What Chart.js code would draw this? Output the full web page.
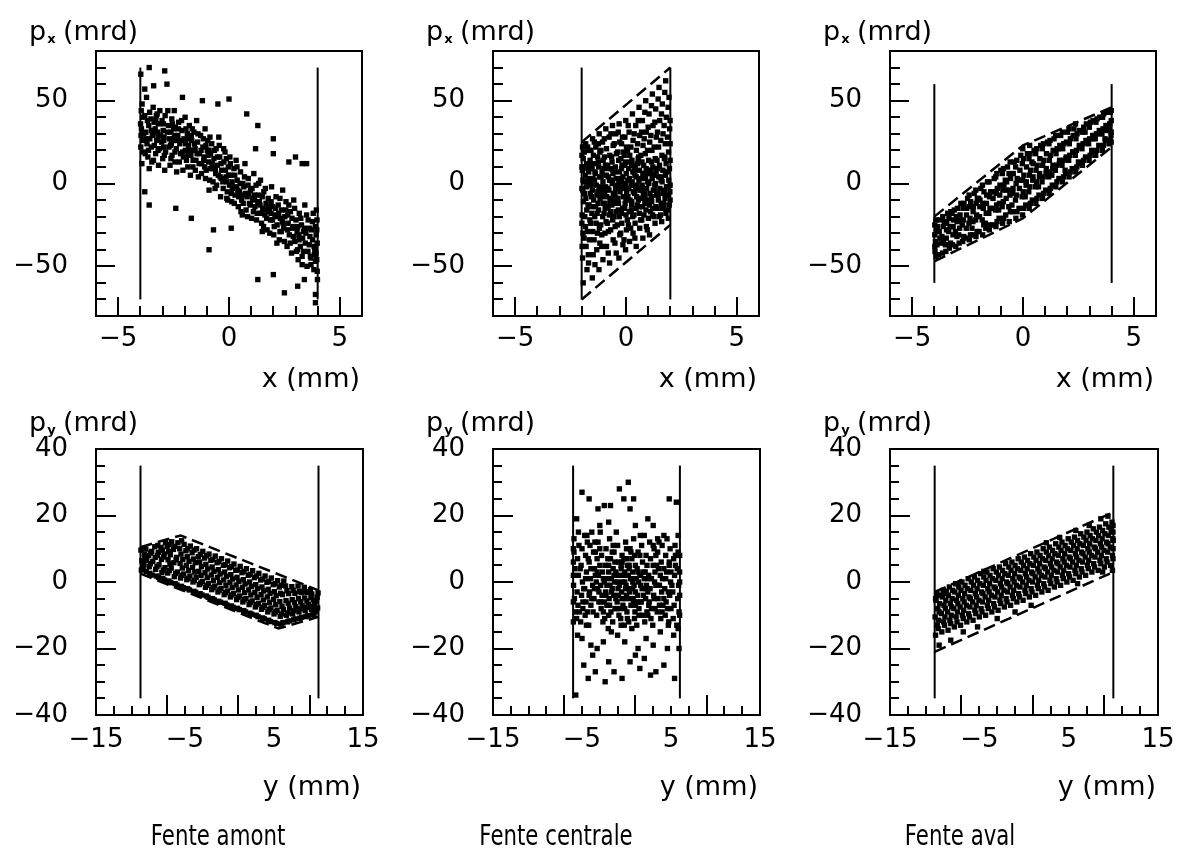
<!DOCTYPE html>
<html>
<head>
<meta charset="utf-8">
<script src="https://cdn.jsdelivr.net/npm/chart.js@4.4.1/dist/chart.umd.min.js"></script>
<style>
  html, body { margin: 0; padding: 0; background: #fff; }
  #page { position: relative; width: 1177px; height: 852px; overflow: hidden; background: #fff; }
  canvas { position: absolute; }
</style>
</head>
<body>
<div id="page">
  <canvas id="c1" width="383" height="400" style="left:0px;top:0px"></canvas>
  <canvas id="c2" width="383" height="400" style="left:397px;top:0px"></canvas>
  <canvas id="c3" width="383" height="400" style="left:794px;top:0px"></canvas>
  <canvas id="c4" width="383" height="452" style="left:0px;top:400px"></canvas>
  <canvas id="c5" width="383" height="452" style="left:397px;top:400px"></canvas>
  <canvas id="c6" width="383" height="452" style="left:794px;top:400px"></canvas>
</div>
<script>
// ---- axis ticks and labels ----
const topXTicks  = [-5, -4, -3, -2, -1, 0, 1, 2, 3, 4, 5];
const topXMajor  = [-5, 0, 5];
const topXLabels = [-5, 0, 5];
const topYTicks  = [-70, -60, -50, -40, -30, -20, -10, 0, 10, 20, 30, 40, 50, 60, 70];
const topYMajor  = [-50, 0, 50];
const topYLabels = [-50, 0, 50];
const botXTicks  = [-13, -11, -9, -7, -5, -3, -1, 1, 3, 5, 7, 9, 11, 13];
const botXMajor  = [-7, 1, 9];
const botXLabels = [-15, -5, 5, 15];
const botYTicks  = [-35, -30, -25, -20, -15, -10, -5, 0, 5, 10, 15, 20, 25, 30, 35];
const botYMajor  = [-20, 0, 20];
const botYLabels = [-40, -20, 0, 20, 40];

// ---- slit edges (mm) and their drawn extent (mrd) ----
const slitAmontX = [-4, 4],     reachAmontX = [-70, 70];
const slitCentraleX = [-2, 2],  reachCentraleX = [-70, 70];
const slitAvalX = [-4, 4],      reachAvalX = [-60, 60];
const slitAmontY = [-10, 10],   reachAmontY = [-35, 35];
const slitCentraleY = [-6, 6],  reachCentraleY = [-35, 35];
const slitAvalY = [-10, 10],    reachAvalY = [-35, 35];

// ---- acceptance envelopes (dashed) ----
const envCentraleXUp  = [[-2, 25], [2, 70]];
const envCentraleXLow = [[-2, -70], [2, -25]];
const envAvalXUp  = [[-4, -20], [0, 23], [4, 46]];
const envAvalXLow = [[-4, -47], [0, -21], [4, 22]];
const envAmontYUp  = [[-10, 10.5], [-5.5, 14], [10, -2.5]];
const envAmontYLow = [[-10, 2.5], [5.5, -14], [10, -10.5]];
const envAvalYUp  = [[-10, -3], [10, 21]];
const envAvalYLow = [[-10, -21], [10, 3]];

// ---- particles: x (mm), px (mrd) ----
const amontX = [
[-3.92,48],[-3.88,40],[-3.95,33],[-3.9,26],[-3.86,19],[-3.93,12],[-3.99,36],[-3.97,29],[-3.98,22],[-3.96,44],
[-3.72,52],[-3.68,38],[-3.75,31],[-3.7,24],[-3.66,16],[-3.58,43],[-3.62,35],[-3.57,27],[-3.63,20],[-3.6,9],
[-3.42,46],[-3.38,37],[-3.44,30],[-3.37,23],[-3.41,14],[-3.28,41],[-3.33,33],[-3.26,26],[-3.31,18],[-3.19,36],
[-3.12,44],[-3.08,29],[-3.13,21],[-3.02,38],[-2.97,32],[-3.04,25],[-2.99,15],[-2.88,41],[-2.93,28],[-2.86,19],
[-2.73,35],[-2.68,27],[-2.71,22],[-2.66,11],[-2.58,39],[-2.62,31],[-2.57,17],[-2.51,26],[-2.47,44],[-2.42,34],
[-2.38,21],[-2.44,13],[-2.31,29],[-2.27,37],[-2.22,24],[-2.18,18],[-2.12,32],[-2.08,8],[-2.03,27],[-1.98,40],
[-1.97,20],[-1.92,14],[-1.88,30],[-1.83,23],[-1.79,35],[-1.72,17],[-1.68,26],[-1.63,10],[-1.58,31],[-1.53,21],
[-1.49,14],[-1.46,38],[-1.42,25],[-1.38,4],[-1.33,18],[-1.28,29],[-1.23,12],[-1.18,22],[-1.13,16],[-1.08,33],
[-1.03,8],[-0.98,20],[-0.96,26],[-0.92,13],[-0.87,2],[-0.83,18],[-0.78,24],[-0.73,9],[-0.68,15],[-0.63,-3],
[-0.58,21],[-0.53,11],[-0.48,5],[-0.46,28],[-0.42,16],[-0.38,-8],[-0.33,8],[-0.28,1],[-0.23,13],[-0.18,19],
[-0.13,4],[-0.08,-5],[-0.03,10],[0.02,-1],[0.04,16],[0.08,5],[0.12,-11],[0.17,-3],[0.22,9],[0.27,-7],
[0.32,14],[0.37,2],[0.42,-14],[0.47,-5],[0.52,7],[0.57,-10],[0.62,0],[0.67,-2],[0.72,12],[0.77,-16],
[0.82,-8],[0.87,3],[0.92,-12],[0.97,-4],[1.02,-21],[1.07,-9],[1.12,6],[1.17,-14],[1.22,-1],[1.27,-18],
[1.32,-7],[1.37,-11],[1.42,2],[1.47,-24],[1.52,-15],[1.57,-5],[1.62,-19],[1.67,-12],[1.72,-28],[1.77,-9],
[1.82,-17],[1.87,-22],[1.92,-2],[1.97,-14],[2.02,-31],[2.07,-19],[2.12,-8],[2.17,-25],[2.22,-13],[2.27,-34],
[2.32,-21],[2.37,-16],[2.42,-4],[2.47,-27],[2.52,-20],[2.57,-11],[2.62,-38],[2.67,-24],[2.72,-31],[2.77,-17],
[2.82,-42],[2.87,-27],[2.92,-10],[2.97,-35],[3.02,-22],[3.07,-29],[3.12,-46],[3.17,-18],[3.22,-38],[3.27,-25],
[3.32,-33],[3.37,-41],[3.42,-13],[3.47,-30],[3.52,-50],[3.57,-22],[3.62,-37],[3.67,-44],[3.72,-28],[3.77,-34],
[3.8,-18],[3.83,-52],[3.87,-40],[3.9,-26],[3.93,-31],[3.96,-46],[3.98,-36],[3.97,-22],[3.99,-58],
[-3.85,30],[-3.5,32],[-3.2,28],[-2.95,22],[-2.6,24],[-2.35,26],[-2.1,19],[-1.85,17],[-1.6,20],[-1.35,12],
[-1.1,10],[-0.85,9],[-0.6,6],[-0.35,3],[-0.1,1],[0.15,-2],[0.4,-4],[0.65,-7],[0.9,-6],[1.15,-10],
[1.4,-13],[1.65,-16],[1.9,-18],[2.15,-20],[2.4,-23],[2.65,-19],[2.9,-26],[3.15,-31],[3.4,-27],[3.65,-32],
[3.85,-43],[-3.3,38],[-2.5,33],[-1.7,29],[-0.9,20],[-0.1,-9],[0.6,-19],[1.5,-29],[2.3,-29],[3.1,-40],
[-3.98,66],[-3.6,70],[-2.9,68],[-3.4,59],[-2.8,60],[-3.8,57],[-2.1,52],[-1.2,50],[-0.5,48],[0.0,51],
[0.8,42],[1.3,35],[2.0,27],[1.2,21],[2.0,18],[3.0,16],[3.3,12],[3.5,12],[2.7,13],[-3.6,-13],
[-3.8,-5],[-2.4,-15],[-1.7,-21],[-0.9,-40],[-0.7,-28],[0.1,-27],[1.3,-58],[2.5,-66],[3.1,-62],[3.9,-67],
[3.9,-72],[3.4,-58],[2.0,-55],[3.3,-49],[3.7,-45]
];
const amontXCore = [
[-3.8,41],[-3.78,18],[-3.74,27],[-3.52,39],[-3.5,22],[-3.48,13],[-3.46,29],[-3.24,42],[-3.22,31],[-3.2,20],
[-3.18,11],[-2.96,36],[-2.94,26],[-2.92,17],[-2.9,8],[-2.78,31],[-2.76,44],[-2.64,23],[-2.62,15],[-2.55,36],
[-2.46,29],[-2.44,19],[-2.36,7],[-2.28,33],[-2.24,13],[-2.16,26],[-2.14,38],[-2.06,16],[-1.96,24],[-1.94,33],
[-1.86,10],[-1.82,27],[-1.76,20],[-1.74,5],[-1.66,33],[-1.62,14],[-1.56,24],[-1.52,8],[-1.44,18],[-1.4,30],
[-1.26,20],[-1.24,6],[-1.16,27],[-1.14,14],[-1.06,3],[-1.04,23],[-0.94,17],[-0.9,-4],[-0.86,28],[-0.76,12],
[-0.72,1],[-0.66,20],[-0.62,9],[-0.56,-1],[-0.52,16],[-0.44,23],[-0.4,4],[-0.36,12],[-0.26,-3],[-0.24,21],
[-0.16,8],[-0.12,15],[-0.06,-10],[-0.02,5],[0.06,12],[0.1,-6],[0.14,1],[0.24,-12],[0.26,5],[0.34,-2],
[0.36,10],[0.44,-8],[0.5,0],[0.54,-17],[0.64,-12],[0.7,4],[0.74,-6],[0.84,-20],[0.86,-1],[0.96,-13],
[1.04,-3],[1.1,-17],[1.16,-7],[1.24,-22],[1.3,-12],[1.34,0],[1.44,-18],[1.5,-8],[1.56,-26],[1.64,-3],
[1.7,-21],[1.76,-14],[1.84,-30],[1.9,-11],[1.96,-22],[2.04,-26],[2.1,-15],[2.16,-36],[2.24,-18],[2.3,-9],
[2.36,-29],[2.44,-24],[2.5,-35],[2.56,-16],[2.64,-28],[2.7,-13],[2.76,-36],[2.84,-21],[2.9,-32],[2.96,-15],
[3.04,-41],[3.1,-26],[3.16,-34],[3.24,-21],[3.3,-44],[3.36,-29],[3.44,-36],[3.5,-19],[3.56,-41],[3.64,-27],
[3.7,-49],[3.76,-23],[3.84,-38],[3.9,-47],[3.94,-16],[3.96,-28],[3.98,-53],[3.92,-42]
];

const centraleX = [
[-1.96,22],[-1.93,15],[-1.97,8],[-1.94,2],[-1.95,-4],[-1.92,-11],[-1.98,-19],[-1.94,-30],[-1.96,-45],[-1.93,-60],
[-1.82,24],[-1.78,12],[-1.84,5],[-1.79,-2],[-1.81,-9],[-1.77,-16],[-1.83,-26],[-1.8,-38],[-1.76,-52],
[-1.66,20],[-1.62,14],[-1.68,7],[-1.64,0],[-1.61,-6],[-1.67,-13],[-1.63,-22],[-1.65,-34],[-1.69,-48],
[-1.51,27],[-1.47,17],[-1.53,9],[-1.49,3],[-1.52,-4],[-1.46,-10],[-1.54,-18],[-1.5,-29],[-1.48,-43],[-1.52,-57],
[-1.36,22],[-1.33,12],[-1.38,6],[-1.34,-1],[-1.31,-7],[-1.37,-14],[-1.35,-24],[-1.32,-40],
[-1.21,30],[-1.18,19],[-1.23,10],[-1.19,4],[-1.22,-3],[-1.17,-9],[-1.24,-16],[-1.2,-27],[-1.18,-36],[-1.22,-52],
[-1.06,25],[-1.03,14],[-1.08,7],[-1.04,1],[-1.07,-5],[-1.02,-12],[-1.05,-20],[-1.09,-31],[-1.04,-46],
[-0.91,33],[-0.88,21],[-0.93,11],[-0.89,5],[-0.92,-2],[-0.87,-8],[-0.94,-15],[-0.9,-23],[-0.88,-38],
[-0.76,28],[-0.73,17],[-0.78,9],[-0.74,2],[-0.77,-4],[-0.72,-11],[-0.75,-19],[-0.79,-29],[-0.74,-48],
[-0.61,35],[-0.58,23],[-0.63,13],[-0.59,6],[-0.62,0],[-0.57,-6],[-0.64,-13],[-0.6,-22],[-0.58,-34],
[-0.46,30],[-0.43,18],[-0.48,10],[-0.44,3],[-0.47,-3],[-0.42,-9],[-0.45,-17],[-0.49,-26],[-0.44,-42],
[-0.31,36],[-0.28,25],[-0.33,14],[-0.29,7],[-0.32,1],[-0.27,-5],[-0.34,-12],[-0.3,-20],[-0.28,-31],[-0.32,-45],
[-0.16,28],[-0.13,19],[-0.18,11],[-0.14,4],[-0.17,-2],[-0.12,-8],[-0.15,-15],[-0.19,-24],[-0.14,-37],
[-0.01,38],[0.02,22],[-0.03,13],[0.01,6],[-0.02,0],[0.03,-6],[-0.04,-12],[0,-19],[0.02,-28],[-0.02,-40],
[0.14,31],[0.17,17],[0.12,9],[0.16,3],[0.13,-3],[0.18,-10],[0.15,-17],[0.11,-25],[0.16,-35],
[0.29,42],[0.32,26],[0.27,14],[0.31,7],[0.28,1],[0.33,-5],[0.26,-11],[0.3,-20],[0.32,-30],
[0.44,35],[0.47,20],[0.42,11],[0.46,4],[0.43,-2],[0.48,-8],[0.45,-15],[0.41,-24],[0.46,-38],
[0.59,46],[0.62,29],[0.57,16],[0.61,8],[0.58,2],[0.63,-4],[0.56,-10],[0.6,-18],[0.62,-27],
[0.74,38],[0.77,23],[0.72,13],[0.76,6],[0.73,-1],[0.78,-7],[0.75,-14],[0.71,-22],[0.76,-33],
[0.89,50],[0.92,31],[0.87,18],[0.91,9],[0.88,3],[0.93,-3],[0.86,-9],[0.9,-16],[0.92,-26],
[1.04,42],[1.07,25],[1.02,14],[1.06,6],[1.03,0],[1.08,-6],[1.05,-13],[1.01,-21],[1.06,-31],
[1.19,54],[1.22,35],[1.17,20],[1.21,10],[1.18,3],[1.23,-4],[1.16,-11],[1.2,-19],
[1.34,45],[1.37,28],[1.32,15],[1.36,7],[1.33,0],[1.38,-7],[1.35,-14],[1.31,-24],
[1.49,58],[1.52,38],[1.47,22],[1.51,11],[1.48,4],[1.53,-3],[1.46,-10],[1.5,-20],
[1.64,48],[1.67,30],[1.62,17],[1.66,8],[1.63,1],[1.68,-6],[1.65,-15],[1.61,-23],
[1.79,62],[1.82,40],[1.77,24],[1.81,12],[1.78,5],[1.83,-2],[1.76,-9],[1.8,-18],
[1.94,52],[1.97,33],[1.92,19],[1.96,9],[1.93,2],[1.98,-5],[1.95,-13],[1.91,-21],
[-1.7,3],[-1.4,7],[-1.1,-2],[-0.8,4],[-0.5,-6],[-0.2,9],[0.1,-3],[0.4,5],[0.7,-4],[1.0,8],
[1.3,-1],[1.6,4],[1.9,-2],[-1.85,10],[-1.55,-8],[-1.25,13],[-0.95,-12],[-0.65,16],[-0.35,-16],[-0.05,11],
[0.25,-13],[0.55,15],[0.85,-12],[1.15,13],[1.45,-7],[1.75,16],[-1.6,-1],[-1.0,9],[-0.4,-1],[0.2,13],
[0.8,11],[1.4,14],[-1.3,-18],[-0.7,-17],[0.0,-9],[0.6,-14],[1.2,-15],[1.7,-12],[-0.2,3],[0.5,-1]
];
const centraleXCore = [
[-1.99,17],[-1.99,-3],[-1.99,-24],[-1.98,-38],[-1.99,10],[-1.88,19],[-1.87,-6],[-1.86,-20],[-1.89,-33],[-1.88,1],
[-1.73,22],[-1.72,9],[-1.71,-13],[-1.74,-29],[-1.7,-43],[-1.58,20],[-1.57,-1],[-1.56,-14],[-1.59,-24],[-1.55,12],
[-1.43,25],[-1.42,2],[-1.41,-20],[-1.44,-34],[-1.4,-49],[-1.28,16],[-1.27,-5],[-1.26,-12],[-1.29,-30],[-1.25,24],
[-1.13,20],[-1.12,4],[-1.11,-8],[-1.14,-25],[-1.1,-38],[-0.98,27],[-0.97,16],[-0.96,-5],[-0.99,-18],[-0.95,-30],
[-0.83,11],[-0.82,-3],[-0.81,-14],[-0.84,-24],[-0.8,-42],[-0.68,30],[-0.67,9],[-0.66,-9],[-0.69,-28],[-0.65,2],
[-0.53,24],[-0.52,7],[-0.51,-12],[-0.54,-20],[-0.5,-36],[-0.38,19],[-0.37,-2],[-0.36,-9],[-0.39,-25],[-0.35,31],
[-0.23,15],[-0.22,1],[-0.21,-18],[-0.24,-30],[-0.2,24],[-0.08,17],[-0.07,-3],[-0.06,-15],[-0.09,-34],[-0.05,28],
[0.07,20],[0.08,2],[0.09,-8],[0.06,-22],[0.1,35],[0.22,22],[0.23,-1],[0.24,-16],[0.21,-27],[0.25,11],
[0.37,30],[0.38,8],[0.39,-6],[0.36,-19],[0.4,-33],[0.52,24],[0.53,12],[0.54,-3],[0.51,-13],[0.55,38],
[0.67,17],[0.68,3],[0.69,-9],[0.66,-22],[0.7,31],[0.82,27],[0.83,6],[0.84,-6],[0.81,-19],[0.85,43],
[0.97,20],[0.98,1],[0.99,-10],[0.96,-28],[1.0,34],[1.12,29],[1.13,8],[1.14,-8],[1.11,-17],[1.15,47],
[1.27,22],[1.28,5],[1.29,-4],[1.26,-20],[1.3,37],[1.42,31],[1.43,9],[1.44,-6],[1.41,-15],[1.45,51],
[1.57,26],[1.58,2],[1.59,-12],[1.56,-19],[1.6,42],[1.72,35],[1.73,15],[1.74,-4],[1.71,-13],[1.75,55],
[1.87,28],[1.88,7],[1.89,-7],[1.86,-16],[1.9,46],[1.99,38],[1.99,14],[1.99,-1],[1.99,-10],[1.99,24]
];

const avalX = [
[-3.92,-44],[-3.88,-37],[-3.95,-35],[-3.9,-29],[-3.86,-26],[-3.93,-22],[-3.97,-41],
[-3.63,-42],[-3.58,-35],[-3.66,-32],[-3.6,-26],[-3.55,-23],[-3.62,-20],
[-3.32,-39],[-3.27,-36],[-3.35,-29],[-3.29,-26],[-3.34,-21],[-3.26,-17],
[-3.03,-38],[-2.98,-32],[-3.05,-29],[-2.97,-23],[-3.01,-20],[-2.96,-15],
[-2.72,-35],[-2.67,-32],[-2.74,-25],[-2.69,-22],[-2.71,-15],[-2.66,-12],
[-2.42,-34],[-2.37,-31],[-2.44,-24],[-2.39,-21],[-2.41,-14],[-2.36,-11],[-2.43,-7],
[-2.12,-32],[-2.07,-29],[-2.14,-22],[-2.09,-19],[-2.11,-12],[-2.06,-9],[-2.13,-4],
[-1.82,-31],[-1.77,-25],[-1.84,-22],[-1.79,-15],[-1.81,-12],[-1.76,-5],[-1.83,-1],
[-1.52,-28],[-1.47,-25],[-1.54,-18],[-1.49,-15],[-1.51,-8],[-1.46,-5],[-1.53,1],
[-1.22,-26],[-1.17,-23],[-1.24,-16],[-1.19,-13],[-1.21,-6],[-1.16,-3],[-1.23,4],[-1.18,6],
[-0.92,-24],[-0.87,-21],[-0.94,-14],[-0.89,-11],[-0.91,-4],[-0.86,-1],[-0.93,6],[-0.88,9],
[-0.62,-23],[-0.57,-17],[-0.64,-14],[-0.59,-7],[-0.61,-4],[-0.56,3],[-0.63,6],[-0.58,13],
[-0.32,-21],[-0.27,-17],[-0.34,-10],[-0.29,-7],[-0.31,0],[-0.26,3],[-0.33,10],[-0.28,14],
[-0.02,-19],[0.03,-15],[-0.04,-8],[0.01,-5],[-0.01,2],[0.04,5],[-0.03,12],[0.02,15],[-0.01,21],
[0.28,-15],[0.33,-12],[0.26,-5],[0.31,-2],[0.29,5],[0.34,8],[0.27,15],[0.32,18],[0.3,23],
[0.58,-12],[0.63,-9],[0.56,-2],[0.61,1],[0.59,8],[0.64,11],[0.57,18],[0.62,21],
[0.88,-9],[0.93,-6],[0.86,1],[0.91,4],[0.89,11],[0.94,14],[0.87,21],[0.92,24],
[1.18,-6],[1.23,-3],[1.16,4],[1.21,7],[1.19,14],[1.24,17],[1.17,24],[1.22,26],
[1.48,-2],[1.53,1],[1.46,8],[1.51,11],[1.49,18],[1.54,21],[1.47,29],
[1.78,1],[1.83,4],[1.76,11],[1.81,14],[1.79,21],[1.84,24],[1.77,31],
[2.08,4],[2.13,7],[2.06,14],[2.11,17],[2.09,24],[2.14,27],[2.07,33],
[2.38,7],[2.43,10],[2.36,17],[2.41,20],[2.39,27],[2.44,30],[2.37,36],
[2.68,11],[2.73,14],[2.66,21],[2.71,24],[2.69,31],[2.74,34],
[2.98,14],[3.03,17],[2.96,24],[3.01,27],[2.99,34],[3.04,37],
[3.28,17],[3.33,20],[3.26,27],[3.31,30],[3.29,37],[3.34,39],
[3.58,20],[3.63,23],[3.56,30],[3.61,33],[3.59,40],[3.64,42],
[3.88,24],[3.93,26],[3.86,33],[3.91,36],[3.94,43],[3.97,29],
[-3.75,-33],[-3.45,-28],[-3.15,-26],[-2.85,-22],[-2.55,-19],[-2.25,-17],[-1.95,-14],[-1.65,-12],[-1.35,-9],[-1.05,-7],
[-0.75,-4],[-0.45,-3],[-0.15,2],[0.15,1],[0.45,4],[0.75,6],[1.05,9],[1.35,11],[1.65,14],[1.95,16],
[2.25,19],[2.55,22],[2.85,25],[3.15,27],[3.45,30],[3.75,32],[-3.5,-37],[-2.9,-31],[-2.3,-27],[-1.7,-24],
[-1.1,-16],[-0.5,-13],[0.1,-8],[0.7,-2],[1.3,5],[1.9,8],[2.5,13],[3.1,20],[3.7,27],[-3.2,-18],
[-2.0,-9],[-0.8,2],[0.4,13],[1.6,21],[2.8,31]
];
const avalXCore = [
[-3.98,-38],[-3.98,-31],[-3.98,-25],[-3.8,-43],[-3.78,-29],[-3.76,-22],[-3.7,-36],[-3.48,-41],[-3.46,-33],[-3.44,-24],
[-3.4,-18],[-3.18,-37],[-3.16,-31],[-3.14,-22],[-3.1,-16],[-2.88,-36],[-2.86,-27],[-2.84,-19],[-2.8,-12],[-2.58,-33],
[-2.56,-27],[-2.54,-15],[-2.5,-9],[-2.28,-31],[-2.26,-23],[-2.24,-14],[-2.2,-6],[-1.98,-29],[-1.96,-20],[-1.94,-10],
[-1.9,-3],[-1.68,-27],[-1.66,-18],[-1.64,-7],[-1.6,1],[-1.38,-25],[-1.36,-15],[-1.34,-5],[-1.3,3],[-1.08,-21],
[-1.06,-12],[-1.04,-1],[-1.0,8],[-0.78,-19],[-0.76,-9],[-0.74,1],[-0.7,10],[-0.48,-17],[-0.46,-6],[-0.44,6],
[-0.4,13],[-0.18,-15],[-0.16,-3],[-0.14,8],[-0.1,17],[0.12,-13],[0.14,-1],[0.16,10],[0.2,18],[0.42,-10],
[0.44,2],[0.46,12],[0.5,20],[0.72,-7],[0.74,4],[0.76,15],[0.8,23],[1.02,-4],[1.04,6],[1.06,18],
[1.1,25],[1.32,-1],[1.34,9],[1.36,20],[1.4,27],[1.62,3],[1.64,12],[1.66,23],[1.7,29],[1.92,6],
[1.94,15],[1.96,25],[2.0,31],[2.22,9],[2.24,19],[2.26,29],[2.3,33],[2.52,12],[2.54,23],[2.56,32],
[2.82,16],[2.84,26],[2.86,36],[3.12,19],[3.14,29],[3.16,38],[3.42,23],[3.44,32],[3.46,40],[3.72,26],
[3.74,35],[3.76,43],[3.98,25],[3.98,31],[3.98,38],[3.98,44]
];

// ---- particles: y (mm), py (mrd) ----
const amontY = [
[-9.9,3.6],[-9.62,5.2],[-9.85,6.4],[-9.55,8.2],[-9.95,9.6],
[-9.35,3.1],[-9.02,4.6],[-9.3,6.5],[-9.08,8.0],[-9.4,9.9],
[-8.7,2.1],[-8.3,3.8],[-8.62,6.2],[-8.35,7.4],[-8.75,9.2],[-8.4,10.6],
[-7.98,1.4],[-7.6,2.8],[-7.92,5.2],[-7.65,6.8],[-8.0,8.9],[-7.7,10.4],
[-7.3,0.6],[-6.95,2.7],[-7.25,4.3],[-6.9,6.7],[-7.35,8.4],[-7.0,10.7],[-7.2,11.8],
[-6.6,-0.2],[-6.2,1.6],[-6.55,4.2],[-6.25,5.8],[-6.65,8.2],[-6.3,9.8],[-6.5,12.1],
[-5.9,-0.9],[-5.5,1.2],[-5.85,3.0],[-5.55,5.6],[-5.95,7.4],[-5.6,10.0],[-5.8,11.8],
[-5.2,-1.7],[-4.8,0.7],[-5.15,2.4],[-4.85,5.0],[-5.25,6.8],[-4.9,9.4],[-5.1,11.3],
[-4.5,-2.4],[-4.1,0.0],[-4.45,1.8],[-4.15,4.4],[-4.55,6.2],[-4.2,8.8],[-4.4,10.8],
[-3.8,-3.1],[-3.4,-0.8],[-3.75,1.4],[-3.45,3.2],[-3.85,5.8],[-3.5,7.6],[-3.7,10.0],
[-3.1,-3.9],[-2.7,-1.6],[-3.05,0.2],[-2.75,2.8],[-3.15,4.6],[-2.8,7.2],[-3.0,9.2],
[-2.4,-4.6],[-2.0,-2.3],[-2.35,-0.5],[-2.05,2.1],[-2.45,3.9],[-2.1,6.5],[-2.3,8.4],
[-1.7,-5.4],[-1.3,-3.0],[-1.65,-1.2],[-1.35,1.4],[-1.75,3.2],[-1.4,5.8],[-1.6,7.8],
[-1.0,-6.1],[-0.6,-3.8],[-0.95,-2.0],[-0.65,0.6],[-1.05,2.4],[-0.7,5.0],[-0.9,7.0],
[-0.3,-6.9],[0.1,-4.5],[-0.25,-2.7],[0.05,-0.1],[-0.35,1.7],[0.0,4.3],[-0.2,6.3],
[0.4,-7.6],[0.8,-5.3],[0.45,-3.5],[0.75,-0.9],[0.35,0.9],[0.7,3.5],[0.5,5.4],
[1.1,-8.3],[1.5,-6.0],[1.15,-4.2],[1.45,-1.6],[1.05,0.2],[1.4,2.8],[1.2,4.7],
[1.8,-9.0],[2.2,-6.8],[1.85,-5.0],[2.15,-2.4],[1.75,-0.6],[2.1,2.0],[1.9,4.0],
[2.5,-9.7],[2.9,-7.5],[2.55,-5.7],[2.85,-3.1],[2.45,-1.3],[2.8,1.3],[2.6,3.4],
[3.2,-10.4],[3.6,-8.2],[3.25,-6.4],[3.55,-3.8],[3.15,-2.0],[3.5,0.6],[3.3,2.6],
[3.9,-11.1],[4.3,-9.0],[3.95,-7.1],[4.25,-4.5],[3.85,-2.7],[4.2,-0.1],[4.0,1.8],
[4.6,-11.9],[5.0,-9.6],[4.65,-7.8],[4.95,-5.2],[4.55,-3.4],[4.9,-0.8],[4.7,1.2],
[5.3,-12.5],[5.7,-10.3],[5.35,-8.5],[5.65,-5.9],[5.25,-4.1],[5.6,-1.5],[5.4,0.4],
[6.0,-12.2],[6.4,-10.0],[6.05,-8.2],[6.35,-5.6],[5.95,-3.8],[6.3,-1.2],[6.1,0.3],
[6.7,-11.7],[7.1,-9.6],[6.75,-7.9],[7.05,-5.3],[6.65,-3.5],[7.0,-1.4],
[7.4,-11.1],[7.8,-9.0],[7.45,-7.4],[7.75,-5.0],[7.35,-3.4],[7.7,-1.2],
[8.1,-10.6],[8.5,-8.6],[8.15,-7.1],[8.45,-4.8],[8.05,-3.2],[8.4,-1.6],
[8.8,-10.1],[9.2,-8.2],[8.85,-6.8],[9.15,-4.6],[8.75,-3.1],[9.1,-2.3],
[9.5,-9.7],[9.9,-7.8],[9.55,-6.6],[9.85,-4.6],[9.95,-3.3]
];
const amontYCore = [
[-9.7,4.5],[-9.5,7.2],[-9.6,10.0],[-8.95,2.6],[-8.9,5.5],[-8.85,8.7],[-8.2,1.8],[-8.15,4.6],[-8.1,8.0],[-8.05,11.0],
[-7.5,1.0],[-7.45,3.6],[-7.4,7.5],[-7.55,9.6],[-6.8,0.3],[-6.75,3.4],[-6.7,5.4],[-6.85,9.1],[-6.78,11.3],[-6.1,-0.5],
[-6.05,2.6],[-6.0,6.7],[-6.15,10.7],[-5.4,-1.3],[-5.35,2.0],[-5.3,4.2],[-5.45,8.4],[-5.38,12.4],[-4.7,-2.0],[-4.65,1.1],
[-4.6,3.5],[-4.75,7.6],[-4.68,10.0],[-4.0,-2.8],[-3.95,0.5],[-3.9,3.0],[-4.05,6.9],[-3.98,9.6],[-3.3,-3.5],[-3.25,-0.3],
[-3.2,2.0],[-3.35,6.0],[-3.28,8.3],[-2.6,-4.2],[-2.55,-1.0],[-2.5,1.3],[-2.65,5.3],[-2.58,7.9],[-1.9,-5.0],[-1.85,-1.7],
[-1.8,0.5],[-1.95,4.5],[-1.88,6.8],[-1.2,-5.8],[-1.15,-2.4],[-1.1,-0.2],[-1.25,3.7],[-1.18,6.2],[-0.5,-6.4],[-0.45,-3.2],
[-0.4,-1.0],[-0.55,3.0],[-0.48,5.2],[0.2,-7.2],[0.25,-3.9],[0.3,-1.7],[0.15,2.2],[0.22,4.6],[0.9,-7.9],[0.95,-4.6],
[1.0,-2.4],[0.85,1.4],[0.92,3.6],[1.6,-8.6],[1.65,-5.3],[1.7,-3.2],[1.55,0.7],[1.62,3.2],[2.3,-9.4],[2.35,-6.1],
[2.4,-3.9],[2.25,0.0],[2.32,2.3],[3.0,-10.0],[3.05,-6.8],[3.1,-4.6],[2.95,-0.8],[3.02,1.8],[3.7,-10.8],[3.75,-7.6],
[3.8,-5.4],[3.65,-1.5],[3.72,0.9],[4.4,-11.5],[4.45,-8.3],[4.5,-6.1],[4.35,-2.2],[4.42,0.2],[5.1,-12.2],[5.15,-9.0],
[5.2,-6.8],[5.05,-2.9],[5.12,-0.5],[5.8,-12.7],[5.85,-9.6],[5.9,-7.3],[5.75,-3.4],[5.82,-1.0],[6.5,-12.0],[6.55,-9.3],
[6.6,-6.4],[6.45,-2.6],[7.2,-11.4],[7.25,-8.6],[7.3,-6.2],[7.15,-2.5],[7.9,-10.9],[7.95,-8.1],[8.0,-5.9],[7.85,-2.8],
[8.6,-10.4],[8.65,-7.6],[8.7,-5.7],[8.55,-3.0],[9.3,-9.9],[9.35,-7.3],[9.4,-5.4],[9.25,-3.6],[9.75,-8.9],[9.7,-5.8]
];

const centraleY = [
[-5.9,9],[-5.8,4],[-5.95,-1],[-5.85,-5],[-5.75,-9],[-5.9,13],
[-5.5,7],[-5.4,2],[-5.55,-3],[-5.45,-7],[-5.6,-11],[-5.35,11],
[-5.0,10],[-5.1,5],[-4.95,0],[-5.05,-4],[-4.9,-8],[-5.15,-12],
[-4.6,8],[-4.5,3],[-4.7,-2],[-4.55,-6],[-4.65,-10],[-4.45,14],
[-4.1,11],[-4.2,6],[-4.05,1],[-4.15,-3],[-4.0,-7],[-4.25,-13],
[-3.7,9],[-3.6,4],[-3.8,-1],[-3.65,-5],[-3.75,-9],[-3.55,12],
[-3.2,12],[-3.3,7],[-3.15,2],[-3.25,-2],[-3.1,-6],[-3.35,-10],
[-2.8,8],[-2.7,3],[-2.9,-1],[-2.75,-4],[-2.85,-8],[-2.65,-12],[-2.95,15],
[-2.3,10],[-2.4,5],[-2.25,1],[-2.35,-3],[-2.2,-7],[-2.45,-11],
[-1.9,13],[-1.8,7],[-2.0,3],[-1.85,-1],[-1.95,-5],[-1.75,-9],[-2.05,-14],
[-1.4,9],[-1.5,4],[-1.35,0],[-1.45,-4],[-1.3,-8],[-1.55,-12],
[-1.0,11],[-0.9,6],[-1.1,2],[-0.95,-2],[-1.05,-6],[-0.85,-10],[-1.15,15],
[-0.5,8],[-0.6,4],[-0.45,0],[-0.55,-3],[-0.4,-7],[-0.65,-11],
[-0.1,12],[0.0,7],[-0.2,3],[-0.05,-1],[-0.15,-5],[0.05,-9],[-0.25,-13],
[0.4,10],[0.3,5],[0.45,1],[0.35,-3],[0.5,-7],[0.25,-12],
[0.8,13],[0.9,8],[0.7,3],[0.85,-1],[0.75,-5],[0.95,-9],
[1.3,9],[1.2,4],[1.35,0],[1.25,-4],[1.4,-8],[1.15,-13],
[1.7,11],[1.8,6],[1.6,2],[1.75,-2],[1.65,-6],[1.85,-10],[1.55,14],
[2.2,8],[2.1,3],[2.25,-1],[2.15,-5],[2.3,-9],[2.05,-12],
[2.6,12],[2.7,7],[2.5,2],[2.65,-2],[2.55,-6],[2.75,-11],
[3.1,10],[3.0,5],[3.15,0],[3.05,-4],[3.2,-8],[2.95,-13],
[3.5,9],[3.6,4],[3.4,-1],[3.55,-5],[3.45,-9],[3.65,12],
[4.0,11],[3.9,6],[4.05,1],[3.95,-3],[4.1,-7],[3.85,-11],
[4.4,8],[4.5,3],[4.3,-2],[4.45,-6],[4.35,-10],[4.55,13],
[4.9,10],[4.8,5],[4.95,0],[4.85,-4],[5.0,-8],[4.75,-12],
[5.3,7],[5.4,2],[5.2,-3],[5.35,-7],[5.25,-11],[5.45,11],
[5.8,9],[5.7,4],[5.85,-1],[5.75,-5],[5.9,-9],[5.65,-13],
[-0.3,2],[0.2,-2],[0.6,1],[-0.8,-1],[1.0,-3],[-1.2,3],[0.0,-4],[0.3,4],[-0.6,5],[0.9,-6],
[-1.6,-2],[1.5,2],[-2.5,0],[2.4,1],[-0.2,-8],[0.6,7],[-1.3,6],[1.2,-6],[-3.5,2],[3.3,-1],
[-5.0,27],[-4.2,25],[-3.2,22],[-2.5,23],[-1.8,23],[-0.8,28],[-0.3,25],[0.2,30],[0.8,25],[0.4,22],
[1.0,17],[-3.0,17],[-2.0,18],[2.4,19],[3.0,17],[4.8,25],[5.6,24],[-5.6,19],[-5.4,15],[-4.7,14],
[-3.9,15],[-4.4,12],[5.8,14],[5.5,8],[4.2,14],[3.5,13],[2.0,14],
[-5.5,-16],[-5.0,-17],[-4.5,-13],[-4.0,-19],[-3.3,-20],[-2.6,-18],[-1.7,-15],[-1.0,-16],[-0.2,-18],[0.6,-14],
[1.3,-20],[2.2,-17],[3.0,-19],[3.8,-15],[4.7,-13],[5.3,-16],[5.8,-14],[-4.8,-25],[-4.3,-29],[-3.5,-27],
[-2.4,-30],[-1.4,-27],[-0.5,-29],[0.4,-24],[1.5,-26],[2.7,-28],[3.3,-27],[4.2,-25],[5.4,-29],[-5.7,-34],
[-3.8,-22],[1.0,-22],[2.0,-23],[-2.0,-24],[5.9,-20],[4.6,-20]
];
const centraleYCore = [
[-5.97,2],[-5.97,-6],[-5.97,6],[-5.97,-12],[-5.97,10],[5.97,3],[5.97,-4],[5.97,8],[5.97,-10],[5.97,0],
[-5.2,4],[-4.8,-2],[-4.3,7],[-3.9,-5],[-3.4,0],[-3.0,5],[-2.6,-9],[-2.1,7],[-1.6,9],[-1.2,-5],
[-0.7,-8],[-0.3,7],[0.1,-11],[0.5,9],[1.0,5],[1.4,-10],[1.9,-4],[2.3,5],[2.8,-8],[3.2,3],
[3.7,-7],[4.2,4],[4.6,-8],[5.1,-1],[5.5,5],[-5.3,-9],[-4.4,-9],[-3.5,9],[-2.5,-6],[-1.7,1],
[-0.9,-4],[-0.1,-2],[0.7,-2],[1.6,-1],[2.4,-3],[3.3,8],[4.2,-5],[5.0,3],[-4.0,4],[-2.2,-1],
[0.2,2],[2.0,1],[3.8,2],[-1.0,0],[1.1,1],[-3.1,-3],[4.7,-3],[-0.5,6],[0.8,-6],[-1.9,-7],
[-3.6,-2],[-3.3,3],[-2.9,-6],[-2.6,1],[-2.3,-4],[-2.0,5],[-1.7,-3],[-1.4,2],[-1.1,-8],[-0.8,2],
[-0.5,-5],[-0.2,0],[0.1,5],[0.4,-5],[0.7,0],[1.0,-7],[1.3,3],[1.6,-6],[1.9,3],[2.2,-2],
[2.5,-7],[2.8,1],[3.1,-5],[3.4,5],[3.7,-1],[4.0,-9],[-4.2,-4],[-4.6,1],[4.4,1],[4.8,6],
[-3.0,10],[-1.5,11],[0.0,10],[1.5,8],[3.0,11],[-2.0,-10],[-0.6,-13],[0.9,-11],[2.4,-10],[-4.9,-6]
];

const avalY = [
[-9.9,-16],[-9.7,-13],[-9.95,-10.5],[-9.65,-8],[-9.85,-5.5],[-9.75,-3.5],
[-9.2,-15],[-9.0,-12],[-9.25,-9.5],[-8.95,-7],[-9.15,-4.5],[-9.05,-2.5],
[-8.5,-14.5],[-8.3,-11.5],[-8.55,-9],[-8.25,-6.5],[-8.45,-4],[-8.35,-1.5],
[-7.8,-13.5],[-7.6,-10.5],[-7.85,-8],[-7.55,-5.5],[-7.75,-3],[-7.65,-0.5],
[-7.1,-13],[-6.9,-10],[-7.15,-7.5],[-6.85,-5],[-7.05,-2.5],[-6.95,0],
[-6.4,-12],[-6.2,-9.5],[-6.45,-7],[-6.15,-4.5],[-6.35,-2],[-6.25,1],
[-5.7,-11.5],[-5.5,-8.5],[-5.75,-6],[-5.45,-3.5],[-5.65,-1],[-5.55,1.5],
[-5.0,-10.5],[-4.8,-8],[-5.05,-5.5],[-4.75,-3],[-4.95,-0.5],[-4.85,2.5],
[-4.3,-10],[-4.1,-7],[-4.35,-4.5],[-4.05,-2],[-4.25,0.5],[-4.15,3],
[-3.6,-9],[-3.4,-6.5],[-3.65,-4],[-3.35,-1.5],[-3.55,1],[-3.45,4],
[-2.9,-8.5],[-2.7,-5.5],[-2.95,-3],[-2.65,-0.5],[-2.85,2],[-2.75,4.5],
[-2.2,-7.5],[-2.0,-5],[-2.25,-2.5],[-1.95,0],[-2.15,2.5],[-2.05,5.5],
[-1.5,-7],[-1.3,-4],[-1.55,-1.5],[-1.25,1],[-1.45,3.5],[-1.35,6],
[-0.8,-6],[-0.6,-3.5],[-0.85,-1],[-0.55,1.5],[-0.75,4],[-0.65,7],
[-0.1,-5.5],[0.1,-2.5],[-0.15,0],[0.15,2.5],[-0.05,5],[0.05,7.5],
[0.6,-4.5],[0.8,-2],[0.55,0.5],[0.85,3],[0.65,5.5],[0.75,8.5],
[1.3,-4],[1.5,-1],[1.25,1.5],[1.55,4],[1.35,6.5],[1.45,9],
[2.0,-3],[2.2,-0.5],[1.95,2],[2.25,4.5],[2.05,7],[2.15,10],
[2.7,-2.5],[2.9,0.5],[2.65,3],[2.95,5.5],[2.75,8],[2.85,10.5],
[3.4,-1.5],[3.6,1],[3.35,3.5],[3.65,6],[3.45,8.5],[3.55,11.5],
[4.1,-1],[4.3,2],[4.05,4.5],[4.35,7],[4.15,9.5],[4.25,12],
[4.8,0],[5.0,2.5],[4.75,5],[5.05,7.5],[4.85,10],[4.95,13],
[5.5,0.5],[5.7,3.5],[5.45,6],[5.75,8.5],[5.55,11],[5.65,13.5],
[6.2,1.5],[6.4,4],[6.15,6.5],[6.45,9],[6.25,11.5],[6.35,14.5],
[6.9,2],[7.1,5],[6.85,7.5],[7.15,10],[6.95,12.5],[7.05,15],
[7.6,3],[7.8,5.5],[7.55,8],[7.85,10.5],[7.65,13],[7.75,16],
[8.3,3.5],[8.5,6.5],[8.25,9],[8.55,11.5],[8.35,14],[8.45,16.5],
[9.0,4.5],[9.2,7],[8.95,9.5],[9.25,12],[9.05,14.5],[9.15,17.5],
[9.7,5],[9.9,8],[9.65,10.5],[9.95,13],[9.75,15.5],[9.85,18],
[-9.5,-19],[-8.2,-17.5],[-6.8,-15],[-5.2,-13.5],[-9.9,-5],[-8.9,-3.5],[8.6,19],[9.4,19.8],[7.3,17],[5.8,15.5],
[9.9,3.5],[8.8,3],[-3.0,-11],[-1.0,-9],[2.5,11.8],[4.0,13.4],[-4.5,3.2],[0.8,-7],[6.0,-0.5],[-7.5,-0.5]
];
const avalYCore = [
[-9.6,-14],[-9.55,-11.5],[-9.5,-9],[-9.45,-6.5],[-9.4,-4],[-8.9,-13],[-8.85,-10.5],[-8.8,-8],[-8.75,-5.5],[-8.7,-2.8],
[-8.2,-12.5],[-8.15,-10],[-8.1,-7.5],[-8.05,-5],[-8.0,-2.5],[-7.5,-12],[-7.45,-9],[-7.4,-6.5],[-7.35,-4],[-7.3,-1.5],
[-6.8,-11],[-6.75,-8.5],[-6.7,-6],[-6.65,-3.5],[-6.6,-1],[-6.1,-10.5],[-6.05,-7.5],[-6.0,-5],[-5.95,-2.5],[-5.9,0],
[-5.4,-9.5],[-5.35,-7],[-5.3,-4.5],[-5.25,-2],[-5.2,0.5],[-4.7,-9],[-4.65,-6],[-4.6,-3.5],[-4.55,-1],[-4.5,1.5],
[-4.0,-8],[-3.95,-5.5],[-3.9,-3],[-3.85,-0.5],[-3.8,2],[-3.3,-7.5],[-3.25,-4.5],[-3.2,-2],[-3.15,0.5],[-3.1,3],
[-2.6,-6.5],[-2.55,-4],[-2.5,-1.5],[-2.45,1],[-2.4,3.5],[-1.9,-6],[-1.85,-3],[-1.8,-0.5],[-1.75,2],[-1.7,4.5],
[-1.2,-5],[-1.15,-2.5],[-1.1,0],[-1.05,2.5],[-1.0,5],[-0.5,-4.5],[-0.45,-1.5],[-0.4,1],[-0.35,3.5],[-0.3,6],
[0.2,-3.5],[0.25,-1],[0.3,1.5],[0.35,4],[0.4,6.5],[0.9,-3],[0.95,0],[1.0,2.5],[1.05,5],[1.1,7.5],
[1.6,-2],[1.65,0.5],[1.7,3],[1.75,5.5],[1.8,8],[2.3,-1.5],[2.35,1.5],[2.4,4],[2.45,6.5],[2.5,9],
[3.0,-0.5],[3.05,2],[3.1,4.5],[3.15,7],[3.2,9.5],[3.7,0],[3.75,3],[3.8,5.5],[3.85,8],[3.9,10.5],
[4.4,1],[4.45,3.5],[4.5,6],[4.55,8.5],[4.6,11],[5.1,1.5],[5.15,4.5],[5.2,7],[5.25,9.5],[5.3,12],
[5.8,2.5],[5.85,5],[5.9,7.5],[5.95,10],[6.0,12.5],[6.5,3],[6.55,6],[6.6,8.5],[6.65,11],[6.7,13.5],
[7.2,4],[7.25,6.5],[7.3,9],[7.35,11.5],[7.4,14],[7.9,4.5],[7.95,7.5],[8.0,10],[8.05,12.5],[8.1,15],
[8.6,5.5],[8.65,8],[8.7,10.5],[8.75,13],[8.8,15.5],[9.3,6],[9.35,9],[9.4,11.5],[9.45,14],[9.5,16.5],
[9.96,7],[9.97,10],[9.98,12.5],[9.96,15],[9.97,17]
];

// ---- drawing ----
const FONT = "'DejaVu Sans', 'Liberation Sans', sans-serif";
const fmt = v => (v < 0 ? '\u2212' + Math.abs(v) : String(v));
const pairs = list => list.map(([a, b]) => ({ x: a, y: b }));
const vline = (x0, reach) => [{ x: x0, y: reach[0] }, { x: x0, y: reach[1] }];

// frame, inward tick marks, axis titles and caption
function decor(cfg) {
  return {
    id: 'decor',
    afterDatasetsDraw(chart) {
      const ctx = chart.ctx, a = chart.chartArea;
      const sx = chart.scales.x, sy = chart.scales.y;
      ctx.save();
      ctx.strokeStyle = '#000';
      ctx.lineWidth = 2;
      ctx.beginPath();
      ctx.rect(a.left, a.top, a.right - a.left, a.bottom - a.top);
      cfg.xTicks.forEach(v => {
        const px = Math.round(sx.getPixelForValue(v));
        const len = cfg.xMajor.includes(v) ? cfg.majorLen : cfg.minorLen;
        ctx.moveTo(px, a.bottom);
        ctx.lineTo(px, a.bottom - len);
      });
      cfg.yTicks.forEach(v => {
        const py = Math.round(sy.getPixelForValue(v));
        const len = cfg.yMajor.includes(v) ? cfg.majorLen : cfg.minorLen;
        ctx.moveTo(a.left, py);
        ctx.lineTo(a.left + len, py);
      });
      ctx.stroke();

      ctx.fillStyle = '#000';
      ctx.textBaseline = 'alphabetic';
      ctx.textAlign = 'left';
      const tx = a.left - 67, ty = a.top - cfg.yTitleGap;
      ctx.font = '27px ' + FONT;
      ctx.fillText(cfg.yTitle[0], tx, ty);
      const pw = ctx.measureText(cfg.yTitle[0]).width;
      ctx.font = 'bold 13px ' + FONT;
      ctx.fillText(cfg.yTitle[1], tx + pw + 1, ty + 3);
      ctx.font = '27px ' + FONT;
      ctx.fillText(cfg.yTitle[2], tx + 34, ty);

      ctx.textAlign = 'right';
      ctx.fillText(cfg.xTitle, a.right - 2, a.bottom + cfg.xTitleGap);

      if (cfg.caption) {
        ctx.save();
        ctx.translate(a.left + cfg.captionShift, a.bottom + 130);
        ctx.scale(0.76, 1);
        ctx.textAlign = 'center';
        ctx.font = '28px ' + FONT;
        ctx.fillText(cfg.caption, 0, 0);
        ctx.restore();
      }
      ctx.restore();
    }
  };
}

function panel(id, cfg) {
  const datasets = [];
  cfg.slits.forEach(xv => datasets.push({
    data: vline(xv, cfg.reach), showLine: true, borderColor: '#000',
    borderWidth: 2, pointRadius: 0, tension: 0
  }));
  (cfg.envelopes || []).forEach(env => datasets.push({
    data: pairs(env), showLine: true, borderColor: '#000', borderWidth: 2.5,
    borderDash: [12, 6], pointRadius: 0, tension: 0
  }));
  datasets.push({
    data: pairs(cfg.points), pointStyle: 'rect', pointRadius: 3.8,
    backgroundColor: '#000', borderWidth: 0
  });

  const tickFont = { family: FONT, size: 26 };
  new Chart(document.getElementById(id), {
    type: 'scatter',
    data: { datasets },
    options: {
      responsive: false, animation: false, devicePixelRatio: 1, events: [],
      layout: { padding: { top: cfg.padTop, right: cfg.padRight, left: 0, bottom: 0 } },
      plugins: { legend: { display: false }, tooltip: { enabled: false } },
      scales: {
        x: {
          type: 'linear', min: cfg.xRange[0], max: cfg.xRange[1],
          grid: { display: false, drawTicks: false }, border: { display: false },
          afterBuildTicks: s => { s.ticks = cfg.xLabels.map(v => ({ value: v })); },
          afterFit: s => { s.height = cfg.xAxisH; s.paddingLeft = 0; s.paddingRight = 0; },
          ticks: { autoSkip: false, maxRotation: 0, padding: cfg.xPad, color: '#000',
                   font: tickFont, callback: v => fmt(v) }
        },
        y: {
          type: 'linear', min: cfg.yRange[0], max: cfg.yRange[1],
          grid: { display: false, drawTicks: false }, border: { display: false },
          afterBuildTicks: s => { s.ticks = cfg.yLabels.map(v => ({ value: v })); },
          afterFit: s => { s.width = 96; s.paddingTop = 0; s.paddingBottom = 0; },
          ticks: { autoSkip: false, padding: 28, color: '#000',
                   font: tickFont, callback: v => fmt(v) }
        }
      }
    },
    plugins: [decor(cfg)]
  });
}

const topRow = {
  xRange: [-6, 6], yRange: [-80, 80], padTop: 51, xAxisH: 84, xPad: 8,
  xTicks: topXTicks, xMajor: topXMajor, xLabels: topXLabels,
  yTicks: topYTicks, yMajor: topYMajor, yLabels: topYLabels,
  majorLen: 19, minorLen: 10, yTitle: ['p', 'x', '(mrd)'], yTitleGap: 11,
  xTitle: 'x (mm)', xTitleGap: 71
};
const botRow = {
  xRange: [-15, 15], yRange: [-40, 40], padTop: 49, xAxisH: 137, xPad: 10,
  xTicks: botXTicks, xMajor: botXMajor, xLabels: botXLabels,
  yTicks: botYTicks, yMajor: botYMajor, yLabels: botYLabels,
  majorLen: 20, minorLen: 9, yTitle: ['p', 'y', '(mrd)'], yTitleGap: 18,
  xTitle: 'y (mm)', xTitleGap: 80
};

panel('c1', { ...topRow, padRight: 21, points: amontX.concat(amontXCore),
              slits: slitAmontX, reach: reachAmontX });
panel('c2', { ...topRow, padRight: 21, points: centraleX.concat(centraleXCore),
              slits: slitCentraleX, reach: reachCentraleX,
              envelopes: [envCentraleXUp, envCentraleXLow] });
panel('c3', { ...topRow, padRight: 21, points: avalX.concat(avalXCore),
              slits: slitAvalX, reach: reachAvalX,
              envelopes: [envAvalXUp, envAvalXLow] });
panel('c4', { ...botRow, padRight: 20, points: amontY.concat(amontYCore),
              slits: slitAmontY, reach: reachAmontY,
              envelopes: [envAmontYUp, envAmontYLow], caption: 'Fente amont', captionShift: 122 });
panel('c5', { ...botRow, padRight: 20, points: centraleY.concat(centraleYCore),
              slits: slitCentraleY, reach: reachCentraleY,
              caption: 'Fente centrale', captionShift: 63 });
panel('c6', { ...botRow, padRight: 19, points: avalY.concat(avalYCore),
              slits: slitAvalY, reach: reachAvalY,
              envelopes: [envAvalYUp, envAvalYLow], caption: 'Fente aval', captionShift: 70 });
</script>
</body>
</html>
